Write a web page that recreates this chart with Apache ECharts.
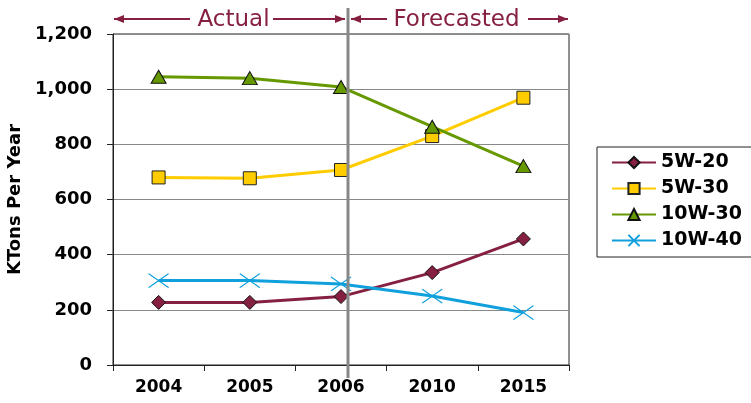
<!DOCTYPE html>
<html>
<head>
<meta charset="utf-8">
<script src="https://cdn.jsdelivr.net/npm/echarts@6/dist/echarts.min.js"></script>
<style>
  html, body { margin: 0; padding: 0; background: #fff; }
  #chart { width: 751px; height: 403px; }
</style>
</head>
<body>
<div id="chart"></div>
<script>
const years = ['2004', '2005', '2006', '2010', '2015']
const w5_20 = [227, 227, 248, 335, 457]
const w5_30 = [680, 677, 707, 830, 969]
const w10_30 = [1045, 1040, 1008, 864, 721]
const w10_40 = [306, 306, 294, 250, 190]
const seriesNames = ['5W-20', '5W-30', '10W-30', '10W-40']

const FONT = 'DejaVu Sans, Verdana, sans-serif'
const maroon = '#862040'
const chart = echarts.init(document.getElementById('chart'))

const crossPath = 'path://M0,0L20,14M20,0L0,14'

const option = {
    animation: false,
    textStyle: { fontFamily: FONT },
    grid: {
        left: 113, right: 182, top: 34, bottom: 38,
        outerBoundsMode: 'none', containLabel: false,
        show: true, borderColor: '#222', borderWidth: 1
    },
    legend: {
        orient: 'vertical',
        left: 597,
        top: 147,
        data: seriesNames,
        itemWidth: 44,
        itemHeight: 14,
        itemGap: 7,
        padding: [6, 40, 7, 14],
        borderColor: '#222',
        borderWidth: 1,
        textStyle: { fontFamily: FONT, fontSize: 19, fontWeight: 'bold', color: '#000' }
    },
    xAxis: {
        type: 'category',
        data: years,
        boundaryGap: true,
        axisLine: { lineStyle: { color: '#222', width: 1 } },
        axisTick: { show: true, length: 6, lineStyle: { color: '#222' } },
        axisLabel: { fontFamily: FONT, fontSize: 17, fontWeight: 'bold', color: '#000', margin: 14 },
        splitLine: { show: false }
    },
    yAxis: {
        type: 'value',
        min: 0,
        max: 1200,
        interval: 200,
        name: 'KTons Per Year',
        nameLocation: 'center',
        nameGap: 86,
        nameTextStyle: { fontFamily: FONT, fontSize: 18, fontWeight: 'bold', color: '#000' },
        axisLine: { show: true, lineStyle: { color: '#222', width: 1 } },
        axisTick: { show: true, length: 6, lineStyle: { color: '#222' } },
        axisLabel: {
            fontFamily: FONT, fontSize: 18, fontWeight: 'bold', color: '#000', margin: 21,
            formatter: v => v.toLocaleString('en-US')
        },
        splitLine: { show: true, lineStyle: { color: '#888', width: 1 } }
    },
    series: [
        {
            name: '5W-20', type: 'line', data: w5_20,
            symbol: 'diamond', symbolSize: 14,
            lineStyle: { color: maroon, width: 3 },
            itemStyle: { color: maroon, borderColor: '#111', borderWidth: 1 }
        },
        {
            name: '5W-30', type: 'line', data: w5_30,
            symbol: 'rect', symbolSize: 13,
            lineStyle: { color: '#ffcc00', width: 3 },
            itemStyle: { color: '#ffcc00', borderColor: '#222', borderWidth: 1 }
        },
        {
            name: '10W-30', type: 'line', data: w10_30,
            symbol: 'triangle', symbolSize: [15, 13],
            lineStyle: { color: '#669900', width: 3 },
            itemStyle: { color: '#669900', borderColor: '#111', borderWidth: 1 }
        },
        {
            name: '10W-40', type: 'line', data: w10_40,
            symbol: crossPath, symbolSize: [20, 14],
            lineStyle: { color: '#10a0dc', width: 3 },
            itemStyle: { color: 'rgba(0,0,0,0)', borderColor: '#10a0dc', borderWidth: 1.2 }
        }
    ]
}

chart.setOption(option)

// divider and Actual / Forecasted annotation, placed from the axis scale
function arrowLine(x1, x2, y, dir) {
    const tipX = dir > 0 ? x2 : x1
    return [
        { type: 'line', shape: { x1: x1, y1: y, x2: x2, y2: y }, style: { stroke: maroon, lineWidth: 2 } },
        { type: 'polygon', shape: { points: [[tipX, y], [tipX - dir * 10, y - 4], [tipX - dir * 10, y + 4]] }, style: { fill: maroon } }
    ]
}

const plotLeft = chart.convertToPixel({ xAxisIndex: 0 }, 0) - 45.6
const plotRight = chart.convertToPixel({ xAxisIndex: 0 }, 4) + 45.6
const divX = chart.convertToPixel({ xAxisIndex: 0 }, 2) + 7
const plotTop = chart.convertToPixel({ yAxisIndex: 0 }, 1200)
const plotBottom = chart.convertToPixel({ yAxisIndex: 0 }, 0)
const annY = plotTop - 15

chart.setOption({
    graphic: [
        { type: 'line', shape: { x1: divX, y1: plotTop - 26, x2: divX, y2: plotBottom + 13 }, style: { stroke: '#888', lineWidth: 3 }, z: 10 },
        { type: 'text', x: (plotLeft + divX) / 2 + 3, y: annY + 1, style: { text: 'Actual', fill: maroon, font: '23px ' + FONT, align: 'center', verticalAlign: 'middle' } },
        { type: 'text', x: (divX + plotRight) / 2 - 2, y: annY + 1, style: { text: 'Forecasted', fill: maroon, font: '23px ' + FONT, align: 'center', verticalAlign: 'middle' } },
        ...arrowLine(plotLeft + 1, plotLeft + 77, annY, -1),
        ...arrowLine(plotLeft + 160, divX - 3, annY, 1),
        ...arrowLine(divX + 3, divX + 39, annY, -1),
        ...arrowLine(plotRight - 41, plotRight - 1, annY, 1)
    ]
})
</script>
</body>
</html>
